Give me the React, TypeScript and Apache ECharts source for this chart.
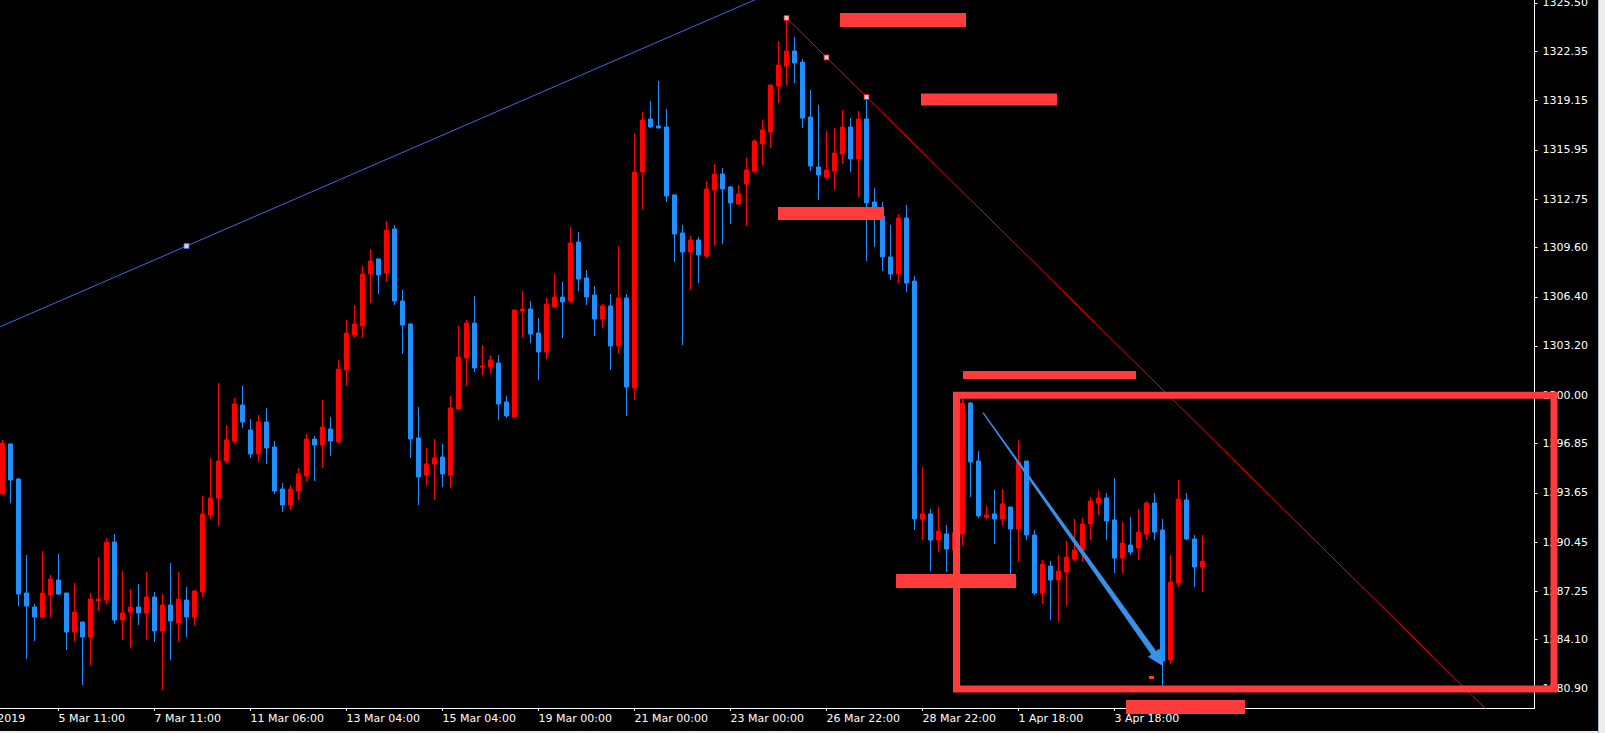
import React, { useEffect, useRef } from "react";
import * as echarts from "echarts";

// ---------- time axis ----------
const SLOT_OFFSET = 6; // hidden slots before the first visible candle
const SLOT_COUNT = 198;
const tickSlots = [-5, 7, 19, 31, 43, 55, 67, 79, 91, 103, 115, 127, 139];
const tickLabels = [
  "4 Mar 2019", "5 Mar 11:00", "7 Mar 11:00", "11 Mar 06:00", "13 Mar 04:00",
  "15 Mar 04:00", "19 Mar 00:00", "21 Mar 00:00", "23 Mar 00:00", "26 Mar 22:00",
  "28 Mar 22:00", "1 Apr 18:00", "3 Apr 18:00",
];

// ---------- price axis ----------
const priceTicks = [
  1325.5, 1322.35, 1319.15, 1315.95, 1312.75, 1309.6, 1306.4, 1303.2,
  1300.0, 1296.85, 1293.65, 1290.45, 1287.25, 1284.1, 1280.9,
];
const priceMin = 1279.661;
const priceMax = 1325.695;
const lastPrice = 1289.2;

// ---------- candles (H4) ----------
const opens = [
  1293.58, 1296.83, 1294.55, 1287.14, 1286.23, 1285.58, 1287.01, 1287.98, 1287.14, 1284.60,
  1285.25, 1284.28, 1286.62, 1286.68, 1290.45, 1285.38, 1285.90, 1286.23, 1285.84, 1286.88,
  1284.67, 1286.36, 1285.19, 1286.68, 1285.58, 1287.20, 1292.21, 1293.31, 1295.72, 1297.02,
  1299.36, 1297.74, 1296.18, 1298.26, 1296.63, 1293.90, 1292.86, 1293.77, 1294.75, 1297.15,
  1296.76, 1297.80, 1296.96, 1301.64, 1303.91, 1304.50, 1307.88, 1308.86, 1307.95, 1310.81,
  1306.12, 1304.63, 1297.22, 1294.81, 1295.53, 1295.98, 1294.81, 1299.10, 1302.42, 1304.69,
  1301.83, 1301.83, 1302.09, 1299.56, 1298.58, 1305.47, 1305.60, 1304.04, 1302.81, 1305.73,
  1306.38, 1306.12, 1309.96, 1307.62, 1306.51, 1304.95, 1305.80, 1303.20, 1306.32, 1300.47,
  1314.51, 1317.96, 1317.50, 1317.44, 1313.02, 1310.55, 1309.31, 1310.09, 1309.05, 1313.34,
  1314.38, 1313.54, 1312.43, 1313.73, 1314.58, 1316.33, 1317.11, 1320.10, 1321.40, 1322.38,
  1321.66, 1318.09, 1314.84, 1314.19, 1314.58, 1315.68, 1317.44, 1315.36, 1317.96, 1312.56,
  1311.65, 1308.99, 1307.88, 1311.52, 1307.42, 1291.95, 1292.28, 1290.58, 1290.97, 1289.93,
  1290.97, 1299.49, 1295.72, 1292.08, 1292.28, 1291.95, 1292.73, 1291.30, 1295.72, 1290.91,
  1287.14, 1288.89, 1287.98, 1288.50, 1289.35, 1289.93, 1291.63, 1292.99, 1293.31, 1291.89,
  1289.41, 1290.26, 1290.06, 1290.97, 1292.99, 1291.23, 1282.78, 1287.79, 1293.19, 1290.65,
  1288.83,
];
const highs = [
  1297.09, 1296.89, 1294.61, 1289.61, 1286.42, 1289.87, 1288.31, 1289.67, 1287.14, 1287.79,
  1285.25, 1287.14, 1289.48, 1290.71, 1290.97, 1288.57, 1287.40, 1287.72, 1288.50, 1287.20,
  1287.07, 1289.09, 1288.50, 1287.53, 1287.33, 1293.44, 1295.92, 1300.79, 1298.06, 1299.82,
  1300.60, 1298.45, 1298.71, 1299.17, 1297.02, 1294.29, 1294.16, 1295.27, 1297.48, 1297.35,
  1299.69, 1298.58, 1302.29, 1304.89, 1305.86, 1308.40, 1309.51, 1308.86, 1311.33, 1311.07,
  1306.84, 1304.69, 1299.23, 1296.57, 1297.15, 1296.83, 1299.95, 1304.50, 1304.89, 1306.45,
  1303.26, 1302.61, 1302.61, 1299.95, 1305.54, 1306.77, 1306.12, 1305.02, 1306.32, 1307.88,
  1307.36, 1310.94, 1310.61, 1308.14, 1307.10, 1305.93, 1306.58, 1309.70, 1306.58, 1317.05,
  1318.41, 1319.13, 1320.43, 1318.61, 1313.02, 1311.07, 1310.35, 1310.29, 1313.93, 1315.03,
  1314.77, 1313.60, 1313.67, 1315.42, 1316.66, 1317.89, 1320.17, 1323.03, 1324.53, 1323.29,
  1321.86, 1319.84, 1318.87, 1317.18, 1317.37, 1318.54, 1318.02, 1318.48, 1319.39, 1313.47,
  1312.56, 1311.07, 1311.78, 1312.37, 1307.75, 1295.33, 1292.60, 1292.73, 1291.56, 1291.56,
  1299.75, 1299.56, 1296.37, 1292.80, 1293.84, 1293.90, 1292.73, 1297.09, 1295.72, 1291.23,
  1289.28, 1289.22, 1289.61, 1290.52, 1291.95, 1292.02, 1293.38, 1293.84, 1293.64, 1294.61,
  1291.76, 1292.08, 1292.60, 1293.12, 1293.64, 1291.95, 1289.61, 1294.49, 1293.64, 1290.91,
  1290.91,
];
const lows = [
  1293.51, 1292.99, 1286.29, 1282.85, 1284.02, 1285.51, 1285.58, 1287.01, 1283.43, 1284.02,
  1281.16, 1282.46, 1285.97, 1286.42, 1285.12, 1284.08, 1283.56, 1285.06, 1284.08, 1283.95,
  1280.83, 1282.78, 1284.02, 1284.28, 1285.06, 1286.88, 1291.95, 1291.49, 1295.59, 1296.89,
  1297.87, 1295.92, 1295.66, 1295.53, 1293.58, 1292.41, 1292.54, 1293.19, 1294.42, 1294.42,
  1295.27, 1296.05, 1296.83, 1300.60, 1303.72, 1303.72, 1305.99, 1306.58, 1307.36, 1305.86,
  1302.68, 1295.92, 1292.86, 1294.10, 1293.19, 1294.03, 1293.97, 1299.04, 1300.60, 1301.51,
  1301.31, 1301.38, 1298.39, 1298.52, 1298.52, 1303.72, 1303.39, 1300.99, 1302.35, 1305.73,
  1303.72, 1305.99, 1306.77, 1305.86, 1303.85, 1304.37, 1301.64, 1302.74, 1298.65, 1299.69,
  1312.11, 1317.37, 1317.37, 1312.56, 1308.66, 1303.26, 1306.84, 1307.29, 1308.92, 1309.70,
  1309.83, 1311.13, 1312.43, 1311.00, 1314.45, 1314.97, 1316.07, 1319.00, 1320.17, 1320.30,
  1317.37, 1314.58, 1312.69, 1314.06, 1313.34, 1315.03, 1314.51, 1312.89, 1308.73, 1309.64,
  1308.08, 1307.49, 1307.29, 1306.71, 1291.23, 1290.58, 1288.57, 1289.80, 1288.50, 1289.28,
  1290.26, 1293.38, 1292.02, 1291.95, 1290.32, 1291.56, 1288.37, 1289.15, 1290.58, 1287.01,
  1286.42, 1285.38, 1285.25, 1286.29, 1289.22, 1289.15, 1290.58, 1292.21, 1290.58, 1288.44,
  1288.44, 1289.61, 1289.28, 1290.58, 1290.58, 1281.09, 1282.52, 1287.53, 1290.58, 1287.53,
  1287.20,
];
const closes = [
  1296.89, 1294.49, 1287.07, 1286.29, 1285.58, 1287.14, 1288.05, 1287.07, 1284.60, 1285.90,
  1284.28, 1286.75, 1286.75, 1290.45, 1285.38, 1285.84, 1286.23, 1285.84, 1286.88, 1284.67,
  1286.36, 1285.32, 1286.75, 1285.58, 1287.27, 1292.27, 1293.31, 1295.72, 1297.09, 1299.43,
  1298.26, 1296.18, 1298.26, 1296.57, 1293.77, 1292.86, 1293.90, 1294.88, 1297.15, 1296.76,
  1297.93, 1297.02, 1301.70, 1304.04, 1304.63, 1307.88, 1308.73, 1307.82, 1310.74, 1306.12,
  1304.56, 1297.15, 1294.68, 1295.53, 1295.92, 1294.88, 1299.17, 1302.48, 1304.69, 1301.77,
  1301.90, 1302.29, 1299.43, 1298.65, 1305.54, 1305.60, 1303.98, 1302.81, 1305.93, 1306.38,
  1306.06, 1309.90, 1307.55, 1306.38, 1304.95, 1305.80, 1303.20, 1306.32, 1300.53, 1314.51,
  1317.89, 1317.44, 1317.37, 1312.95, 1310.48, 1309.31, 1310.09, 1309.12, 1313.41, 1314.38,
  1313.41, 1312.50, 1313.08, 1314.64, 1316.53, 1317.24, 1320.17, 1321.47, 1322.38, 1321.60,
  1318.02, 1314.90, 1314.32, 1314.64, 1315.75, 1317.44, 1315.36, 1317.96, 1312.50, 1311.72,
  1308.99, 1307.88, 1311.52, 1307.29, 1291.95, 1292.28, 1290.58, 1291.17, 1290.00, 1291.04,
  1299.49, 1295.66, 1292.15, 1292.21, 1291.95, 1292.93, 1291.30, 1295.66, 1290.91, 1287.14,
  1289.02, 1287.98, 1288.57, 1289.48, 1289.93, 1291.63, 1293.12, 1293.31, 1291.82, 1289.41,
  1290.39, 1289.80, 1291.10, 1292.99, 1291.10, 1282.72, 1287.85, 1293.25, 1290.65, 1288.83,
  1289.20,
];

// ---------- chart objects (bar index, price) ----------
const blueTrend = [[-1, 1304.29], [95, 1325.92]];
const blueTrendHandles = [[23, 1309.7]];
const redTrend = [[98, 1324.53], [190, 1277.24]];
const redTrendHandles = [[98, 1324.53], [103, 1321.96], [108, 1319.39]];
// [fromBar, toBar, topPrice, bottomPrice]
const redBars = [
  [104.69, 120.44, 1324.85, 1323.94],
  [114.81, 131.81, 1319.62, 1318.84],
  [96.94, 110.19, 1312.24, 1311.39],
  [120.06, 141.69, 1301.57, 1301.05],
  [111.69, 126.69, 1288.37, 1287.46],
  [140.44, 155.31, 1280.18, 1279.27],
  [143.31, 143.94, 1281.74, 1281.55],
];
const redBox = [[119.25, 193.94, 1300.0, 1280.9]];
// [fromBar, fromPrice, toBar, toPrice]
const arrowObj = [[122.56, 1298.86, 145.13, 1282.36]];

const FONT = "DejaVu Sans";
const RED_OBJ = "#ff3b3b";
const SHIFT = 50; // chart canvas starts 50px left of the page

export default function App() {
  const ref = useRef<HTMLDivElement>(null);

  useEffect(() => {
    document.body.style.margin = "0";
    document.body.style.background = "#000";
    document.body.style.overflow = "hidden";
    if (!ref.current) return;
    const chart = echarts.init(ref.current, undefined, { renderer: "svg" });

    const slots = Array.from({ length: SLOT_COUNT }, (_, i) => String(i - SLOT_OFFSET));
    const tickMap: Record<string, string> = {};
    tickSlots.forEach((s, i) => (tickMap[String(s)] = tickLabels[i]));
    const showTick = (index: number) => tickMap[String(index - SLOT_OFFSET)] !== undefined;

    const candles = opens.map((o, i) => [i + SLOT_OFFSET, o, closes[i], lows[i], highs[i]]);

    const option: any = {
      animation: false,
      backgroundColor: "#000",
      textStyle: { fontFamily: FONT },
      grid: { left: 0.5, top: 0, width: 8 * SLOT_COUNT, height: 708, outerBoundsMode: "none", containLabel: false },
      xAxis: [
        {
          type: "category",
          data: slots,
          boundaryGap: true,
          axisLine: { onZero: false, lineStyle: { color: "#ffffff", width: 1 } },
          axisTick: {
            show: true,
            alignWithLabel: true,
            interval: (index: number) => showTick(index),
            length: 3,
            lineStyle: { color: "#ffffff" },
          },
          axisLabel: {
            interval: (index: number) => showTick(index),
            formatter: (v: string) => tickMap[v] || "",
            color: "#ffffff",
            fontFamily: FONT,
            fontSize: 11,
            align: "left",
            margin: 5,
          },
          splitLine: { show: false },
        },
        {
          type: "value",
          min: -SLOT_OFFSET - 0.5,
          max: SLOT_COUNT - SLOT_OFFSET - 0.5,
          show: false,
        },
      ],
      yAxis: {
        type: "value",
        position: "right",
        min: priceMin,
        max: priceMax,
        axisLine: { show: true, onZero: false, lineStyle: { color: "#ffffff", width: 1 } },
        axisTick: { show: true, customValues: priceTicks, length: 3, lineStyle: { color: "#ffffff" } },
        axisLabel: {
          customValues: priceTicks,
          formatter: (v: number) => v.toFixed(2),
          color: "#ffffff",
          fontFamily: FONT,
          fontSize: 11,
          margin: 8,
        },
        splitLine: { show: false },
      },
      series: [
        {
          type: "candlestick",
          xAxisIndex: 0,
          yAxisIndex: 0,
          data: candles,
          encode: { x: 0, y: [1, 2, 3, 4] },
          barWidth: 4,
          z: 2,
          itemStyle: {
            color: "#ff0000",
            color0: "#1e90ff",
            borderColor: "#ff0000",
            borderColor0: "#1e90ff",
            borderWidth: 1,
          },
          markLine: {
            silent: true,
            symbol: "none",
            lineStyle: { opacity: 0 },
            data: [{ yAxis: lastPrice }],
            label: {
              show: true,
              position: "end",
              distance: 2,
              formatter: () => lastPrice.toFixed(2),
              color: "#000000",
              backgroundColor: "#ffffff",
              fontFamily: FONT,
              fontSize: 11,
              lineHeight: 12,
              padding: [0, 6, 0, 4],
            },
          },
        },
        {
          type: "line",
          xAxisIndex: 1,
          data: blueTrend,
          showSymbol: false,
          silent: true,
          z: 4,
          lineStyle: { color: "#4169e1", width: 1 },
        },
        {
          type: "line",
          xAxisIndex: 1,
          data: redTrend,
          showSymbol: false,
          silent: true,
          z: 4,
          lineStyle: { color: "#ff0000", width: 1 },
        },
        {
          type: "custom",
          xAxisIndex: 1,
          data: redBars,
          z: 5,
          silent: true,
          renderItem: (_p: any, api: any) => {
            const a = api.coord([api.value(0), api.value(2)]);
            const b = api.coord([api.value(1), api.value(3)]);
            return {
              type: "rect",
              shape: { x: a[0], y: a[1], width: b[0] - a[0], height: b[1] - a[1] },
              style: { fill: RED_OBJ },
            };
          },
        },
        {
          type: "custom",
          xAxisIndex: 1,
          data: redBox,
          z: 5,
          silent: true,
          renderItem: (_p: any, api: any) => {
            const a = api.coord([api.value(0), api.value(2)]);
            const b = api.coord([api.value(1), api.value(3)]);
            return {
              type: "rect",
              shape: { x: a[0], y: a[1], width: b[0] - a[0], height: b[1] - a[1] },
              style: { fill: "none", stroke: RED_OBJ, lineWidth: 7 },
            };
          },
        },
        {
          type: "custom",
          xAxisIndex: 1,
          data: arrowObj,
          z: 6,
          silent: true,
          renderItem: (_p: any, api: any) => {
            const p0 = api.coord([api.value(0), api.value(1)]);
            const p1 = api.coord([api.value(2), api.value(3)]);
            const dx = p1[0] - p0[0];
            const dy = p1[1] - p0[1];
            const len = Math.sqrt(dx * dx + dy * dy);
            const ux = dx / len, uy = dy / len;
            const nx = -uy, ny = ux;
            const headLen = 17, headHalf = 7, w0 = 0.6, w1 = 3;
            const bx = p1[0] - ux * headLen, by = p1[1] - uy * headLen;
            const pts = [
              [p0[0] + nx * w0, p0[1] + ny * w0],
              [bx + nx * w1, by + ny * w1],
              [bx + nx * headHalf, by + ny * headHalf],
              [p1[0], p1[1]],
              [bx - nx * headHalf, by - ny * headHalf],
              [bx - nx * w1, by - ny * w1],
              [p0[0] - nx * w0, p0[1] - ny * w0],
            ];
            return { type: "polygon", shape: { points: pts }, style: { fill: "#3a90e8" } };
          },
        },
        {
          type: "scatter",
          xAxisIndex: 1,
          data: blueTrendHandles,
          symbol: "rect",
          symbolSize: 5,
          silent: true,
          z: 7,
          itemStyle: { color: "#ffffff", borderColor: "#4169e1", borderWidth: 1 },
        },
        {
          type: "scatter",
          xAxisIndex: 1,
          data: redTrendHandles,
          symbol: "rect",
          symbolSize: 5,
          silent: true,
          z: 7,
          itemStyle: { color: "#ffffff", borderColor: "#ff0000", borderWidth: 1 },
        },
      ],
      graphic: [
        { type: "rect", shape: { x: 1598 + SHIFT, y: 0, width: 7, height: 733 }, style: { fill: "#ececec" }, z: 100 },
        { type: "rect", shape: { x: 1598 + SHIFT, y: 0, width: 1, height: 733 }, style: { fill: "#a9b4c2" }, z: 101 },
        { type: "rect", shape: { x: 0, y: 731, width: 1605 + SHIFT, height: 2 }, style: { fill: "#ececec" }, z: 100 },
      ],
    };

    chart.setOption(option);
    return () => chart.dispose();
  }, []);

  return (
    <div
      ref={ref}
      style={{ width: 1605 + SHIFT, height: 733, marginLeft: -SHIFT, background: "#000" }}
    />
  );
}
